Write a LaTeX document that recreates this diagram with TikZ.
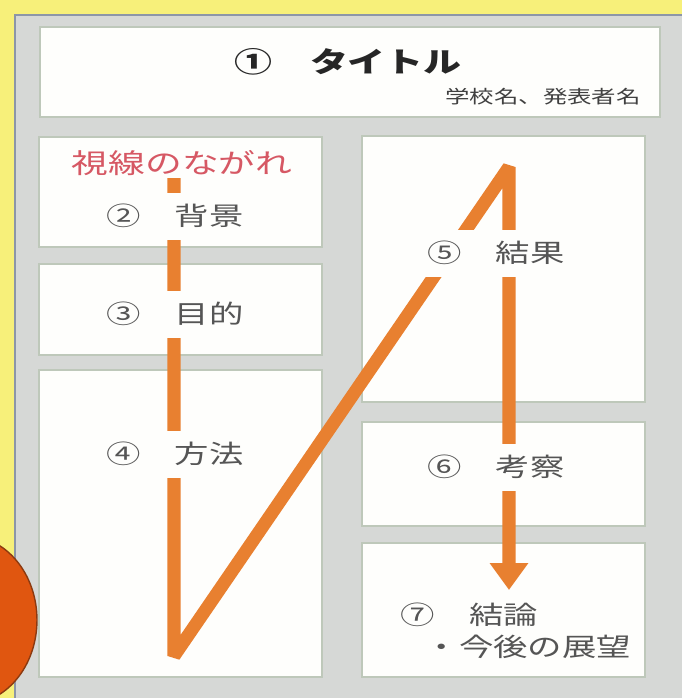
\documentclass[tikz,border=0pt]{standalone}
\usepackage{fontspec}
\usetikzlibrary{arrows.meta}
\newfontfamily\jp[FakeStretch=1.35]{Noto Sans CJK JP}
\definecolor{bgyellow}{RGB}{247,240,122}
\definecolor{panelgray}{RGB}{214,216,214}
\definecolor{paneledge}{RGB}{140,150,168}
\definecolor{boxedge}{RGB}{190,200,186}
\definecolor{boxfill}{RGB}{254,254,252}
\definecolor{flow}{RGB}{232,128,48}
\definecolor{flowtext}{RGB}{214,88,100}
\definecolor{labeltext}{RGB}{85,85,85}
\definecolor{markorange}{RGB}{224,86,16}
\definecolor{markedge}{RGB}{140,58,16}

\tikzset{
  panelbox/.style={draw=boxedge, fill=boxfill, line width=1.4pt},
  flowline/.style={draw=flow, line width=7.4pt, line join=bevel,
    -{Triangle[width=0.74cm,length=0.54cm]}},
  lbl/.style={fill=boxfill, text=labeltext, font=\jp\fontsize{14.5}{17}\selectfont,
    minimum height=0.94cm, inner xsep=3pt, inner ysep=0pt},
}

\begin{document}
\begin{tikzpicture}[x=0.02cm,y=-0.02cm]
	\useasboundingbox (0,0) rectangle (682,698);
	% background
	\fill[bgyellow] (0,0) rectangle (682,698);
	\fill[panelgray] (14,14) rectangle (682,698);
	\draw[paneledge, line width=1.6pt] (15,698) -- (15,15) -- (682,15);
	% marker at the left edge
	\begin{scope}
		\clip (0,0) rectangle (682,698);
		\filldraw[fill=markorange, draw=markedge, line width=0.8pt] (-33,620) ellipse [x radius=1.4cm, y radius=1.68cm];
	\end{scope}
	% boxes
	\draw[panelbox] (40,27) rectangle (660,117);
	\draw[panelbox] (39,137) rectangle (322,247);
	\draw[panelbox] (39,264) rectangle (322,355);
	\draw[panelbox] (39,370) rectangle (322,677);
	\draw[panelbox] (362,136) rectangle (645,402);
	\draw[panelbox] (362,422) rectangle (645,526);
	\draw[panelbox] (362,543) rectangle (645,677);
	% reading flow
	\coordinate (fs) at (174,178);
	\coordinate (fv) at (174,656);
	\coordinate (fp) at (509,167);
	\coordinate (fe) at (509,590);
	\draw[flowline] (fs) -- (fv) -- (fp) -- (fe);
	% labels
	\node[font=\jp\bfseries\fontsize{16}{19}\selectfont, text=black!85] (title) at (348,62) {①　タイトル};
	\node[font=\jp\fontsize{10.3}{12}\selectfont, text=black!75, anchor=east] (author) at (647,97) {学校名、発表者名};
	\node[font=\jp\fontsize{15.5}{18}\selectfont, text=flowtext] (flowname) at (182,163) {視線のながれ};
	\node[lbl] (haikei) at (175,216) {②　背景};
	\node[lbl] (mokuteki) at (175,314) {③　目的};
	\node[lbl] (houhou) at (175,454) {④　方法};
	\node[lbl] (kekka) at (496,253) {⑤　結果};
	\node[lbl] (kousatsu) at (496,467) {⑥　考察};
	\node[lbl, fill=none] (ketsuron) at (469,615) {⑦　結論};
	\node[lbl, fill=none] (tenbou) at (528,647) {・今後の展望};
\end{tikzpicture}
\end{document}
